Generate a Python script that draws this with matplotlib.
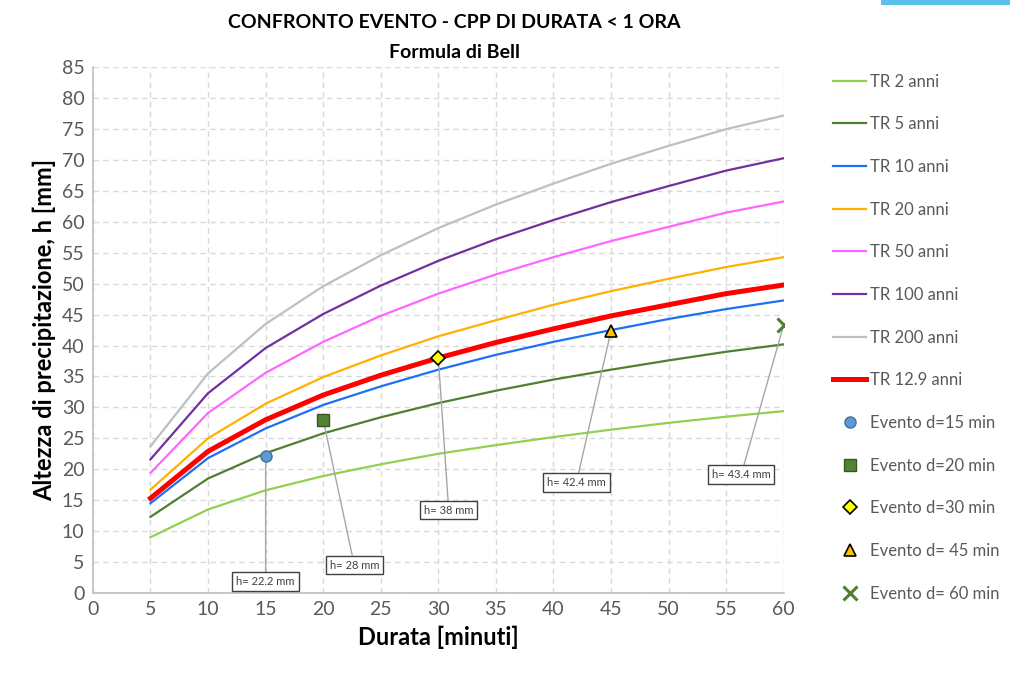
import matplotlib
matplotlib.use('Agg')
import matplotlib.pyplot as plt
from matplotlib.patches import Rectangle

plt.rcParams['font.family'] = ['Lato', 'DejaVu Sans']

# durata [minuti]
durata = [5, 10, 15, 20, 25, 30, 35, 40, 45, 50, 55, 60]

# altezze di precipitazione [mm] per tempo di ritorno
tr2 = [9.0, 13.5, 16.6, 18.9, 20.8, 22.5, 23.9, 25.2, 26.4, 27.5, 28.5, 29.4]
tr5 = [12.3, 18.5, 22.6, 25.8, 28.4, 30.7, 32.7, 34.5, 36.1, 37.6, 39.0, 40.2]
tr10 = [14.5, 21.8, 26.6, 30.4, 33.4, 36.1, 38.5, 40.6, 42.5, 44.3, 45.9, 47.3]
tr20 = [16.7, 25.0, 30.6, 34.9, 38.4, 41.5, 44.1, 46.6, 48.8, 50.8, 52.7, 54.3]
tr50 = [19.4, 29.1, 35.6, 40.6, 44.8, 48.4, 51.5, 54.3, 56.9, 59.2, 61.5, 63.3]
tr100 = [21.6, 32.3, 39.6, 45.1, 49.7, 53.7, 57.2, 60.3, 63.2, 65.8, 68.3, 70.3]
tr200 = [23.7, 35.5, 43.5, 49.6, 54.6, 59.0, 62.8, 66.2, 69.4, 72.3, 75.0, 77.2]
tr12_9 = [15.3, 22.9, 28.0, 32.0, 35.2, 38.0, 40.5, 42.7, 44.8, 46.6, 48.4, 49.8]

# eventi
ev_d = [15, 20, 30, 45, 60]
ev_h = [22.2, 28, 38, 42.4, 43.4]
ev_labels = ['Evento d=15 min', 'Evento d=20 min', 'Evento d=30 min',
             'Evento d= 45 min', 'Evento d= 60 min']
ev_text = ['h= 22.2 mm', 'h= 28 mm', 'h= 38 mm', 'h= 42.4 mm', 'h= 43.4 mm']
ev_text_pos = [(15, 1.8), (22.7, 4.5), (30.9, 13.4), (42.0, 17.9), (56.3, 19.1)]

fig = plt.figure(figsize=(10.1, 6.73), dpi=100)
ax = fig.add_axes([0.092, 0.119, 0.684, 0.781])

curve = [(tr2, 'TR 2 anni', '#92d050', 1.6),
         (tr5, 'TR 5 anni', '#4f7f30', 1.6),
         (tr10, 'TR 10 anni', '#1f6ff5', 1.6),
         (tr20, 'TR 20 anni', '#ffb000', 1.6),
         (tr50, 'TR 50 anni', '#ff66ff', 1.6),
         (tr100, 'TR 100 anni', '#7030a0', 1.6),
         (tr200, 'TR 200 anni', '#bfbfbf', 1.6),
         (tr12_9, 'TR 12.9 anni', '#ff0000', 3.6)]
for vals, lab, col, lw in curve:
    ax.plot(durata, vals, color=col, lw=lw, label=lab, solid_joinstyle='round')

# marker degli eventi
mk = [dict(marker='o', ms=8, mfc='#5b9bd5', mec='#41719c', mew=1.0),
      dict(marker='s', ms=8, mfc='#548235', mec='#385723', mew=1.0),
      dict(marker='D', ms=7, mfc='#ffff00', mec='black', mew=1.2),
      dict(marker='^', ms=9, mfc='#ffc000', mec='black', mew=1.2),
      dict(marker='x', ms=10, mfc='none', mec='#4f7f30', mew=2.2)]
for i in range(len(ev_d)):
    ax.plot([ev_d[i]], [ev_h[i]], ls='none', label=ev_labels[i], zorder=5, **mk[i])
    ax.annotate(ev_text[i], xy=(ev_d[i], ev_h[i]), xytext=ev_text_pos[i],
                fontsize=8, color='#404040', ha='center', va='center',
                bbox=dict(boxstyle='square,pad=0.35', fc='white', ec='#404040', lw=1),
                arrowprops=dict(arrowstyle='-', color='#a6a6a6', lw=1,
                                shrinkA=0, shrinkB=4),
                zorder=4)

ax.set_xlim(0, 60)
ax.set_ylim(0, 85)
ax.set_xticks(range(0, 61, 5))
ax.set_yticks(range(0, 86, 5))
ax.tick_params(labelsize=14, colors='#595959', length=0, pad=6)
ax.grid(True, ls=(0, (4, 3)), color='#d9d9d9', lw=1)
ax.set_axisbelow(True)
for s in ['top', 'right']:
    ax.spines[s].set_visible(False)
for s in ['left', 'bottom']:
    ax.spines[s].set_color('#bfbfbf')
    ax.spines[s].set_linewidth(1.2)

ax.set_xlabel('Durata [minuti]', fontsize=17, fontweight='bold', labelpad=5)
ax.set_ylabel('Altezza di precipitazione, h [mm]', fontsize=17, fontweight='bold', labelpad=4)

fig.text(0.45, 0.967, 'CONFRONTO EVENTO - CPP DI DURATA < 1 ORA', fontsize=14,
         fontweight='bold', ha='center', va='center')
fig.text(0.45, 0.922, 'Formula di Bell', fontsize=14, fontweight='bold',
         ha='center', va='center')

h, l = ax.get_legend_handles_labels()
leg = fig.legend(h, l, loc='upper left', bbox_to_anchor=(0.81, 0.913),
                 frameon=False, fontsize=12, labelspacing=1.6, handlelength=2.0,
                 handletextpad=0.2, labelcolor='#595959')

# barra decorativa in alto a destra
fig.patches.append(Rectangle((0.872, 0.992), 0.128, 0.008, transform=fig.transFigure,
                             fc='#5bc0eb', ec='none'))

fig.savefig('out.png', dpi=100)
